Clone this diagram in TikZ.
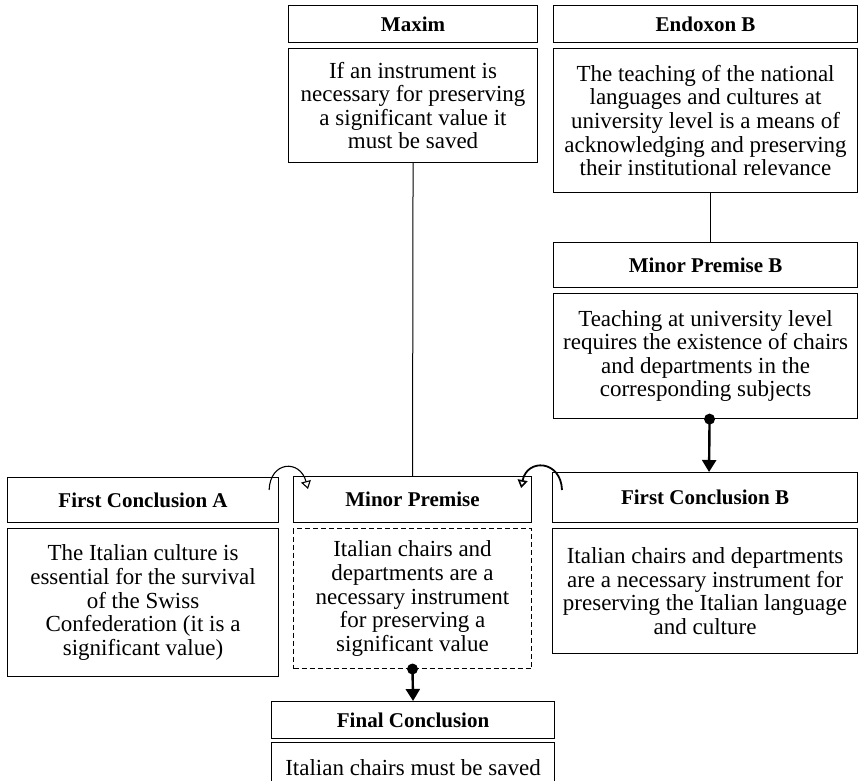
\documentclass[tikz,border=0pt]{standalone}
\usepackage{fontspec}
\setmainfont{Liberation Serif}
\usetikzlibrary{arrows.meta,calc}

\begin{document}
\begin{tikzpicture}[x=1pt,y=-1pt,
  box/.style={draw, line width=1.1pt, inner sep=0pt, anchor=north west, align=center},
  head/.style={box, font=\fontsize{21}{24}\selectfont\bfseries},
  body/.style={box, font=\fontsize{23}{23.6}\selectfont},
  dashbox/.style={body, dash pattern=on 5pt off 3pt, line width=1pt},
  link/.style={line width=1pt},
  flow/.style={line width=2.4pt, -{Triangle[length=12pt,width=14pt]}},
  hop/.style={line width=1.1pt, -{Triangle[open,length=8pt,width=10pt,line width=1.1pt]}},
  hopbold/.style={line width=1.8pt, -{Triangle[open,length=8pt,width=10pt,line width=1.6pt]}},
  dot/.style={fill, radius=5.5pt},
]
\useasboundingbox (0,0) rectangle (860,780);

% Maxim
\node[head, minimum width=249, minimum height=37] (mh) at (288,5) {Maxim};
\node[body, minimum width=249, minimum height=114] (mb) at (288,48)
  {If an instrument is\\necessary for preserving\\a significant value it\\must be saved};

% Endoxon B
\node[head, minimum width=304, minimum height=37] (eh) at (553,5) {Endoxon B};
\node[body, minimum width=304, minimum height=144] (eb) at (553,48)
  {The teaching of the national\\languages and cultures at\\university level is a means of\\acknowledging and preserving\\their institutional relevance};

% Minor Premise B
\node[head, minimum width=304, minimum height=45] (mpbh) at (553,242) {Minor Premise B};
\node[body, minimum width=304, minimum height=125] (mpbb) at (553,293)
  {Teaching at university level\\requires the existence of chairs\\and departments in the\\corresponding subjects};

% First Conclusion B
\node[head, minimum width=305, minimum height=50] (fcbh) at (552,472) {First Conclusion B};
\node[body, minimum width=305, minimum height=125] (fcbb) at (552,528)
  {Italian chairs and departments\\are a necessary instrument for\\preserving the Italian language\\and culture};

% First Conclusion A
\node[head, minimum width=271, minimum height=45] (fcah) at (7,477) {First Conclusion A};
\node[body, minimum width=271, minimum height=148] (fcab) at (7,528)
  {The Italian culture is\\essential for the survival\\of the Swiss\\Confederation (it is a\\significant value)};

% Minor Premise
\node[head, minimum width=238, minimum height=46] (mph) at (293,476) {Minor Premise};
\node[dashbox, minimum width=238, minimum height=140] (mpb) at (293,528)
  {Italian chairs and\\departments are a\\necessary instrument\\for preserving a\\significant value};

% Final Conclusion
\node[head, minimum width=283, minimum height=37] (fch) at (271,701) {Final Conclusion};
\node[body, minimum width=283, minimum height=50] (fcb) at (271,742) {Italian chairs must be saved};

% plain links
\draw[link] (mb.south) -- (mph.north);
\draw[link] ([xshift=5pt]eb.south) -- ([xshift=5pt]mpbh.north);

% inference arrows with origin dots
\fill[dot] ([xshift=4pt]mpbb.south) circle;
\draw[flow] ([xshift=4pt]mpbb.south) -- ([xshift=4pt]fcbh.north);
\fill[dot] (mpb.south) circle;
\draw[flow] (mpb.south) -- (fch.north);

% hopping arrows into the minor premise
\coordinate (ha) at ($(fcah.north east)+(-10,13)$);
\coordinate (hb) at ($(mph.north west)+(15,13)$);
\draw[hop] (ha) .. controls ($(ha)+(1,-29)$) and ($(hb)+(-8,-30)$) .. (hb);
\coordinate (hc) at ($(fcbh.north west)+(10,18)$);
\coordinate (hd) at ($(mph.north east)+(-11,12)$);
\draw[hopbold] (hc) .. controls ($(hc)+(-1,-30)$) and ($(hd)+(6,-30)$) .. (hd);
\end{tikzpicture}
\end{document}
